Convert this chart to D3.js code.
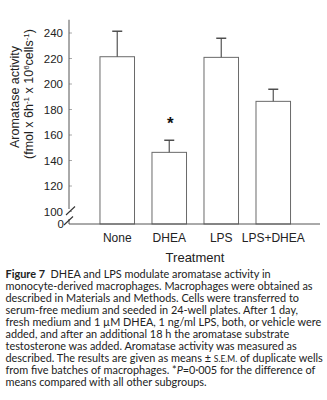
<!DOCTYPE html>
<html>
<head>
<meta charset="utf-8">
<script src="https://cdn.jsdelivr.net/npm/d3@7"></script>
<style>
  html, body { margin: 0; padding: 0; background: #fff; }
  svg { display: block; }
</style>
</head>
<body>
<script>
// Aromatase activity by treatment (mean ± S.E.M.)
const categories = ["None", "DHEA", "LPS", "LPS+DHEA"];
const means = [221, 146, 220.5, 186];
const sems = [20, 9.5, 15, 9.5];
const significant = [false, true, false, false];
const yTicks = [100, 120, 140, 160, 180, 200, 220, 240];

const captionLines = [
  [{t: "Figure 7", b: true}, {t: "  DHEA and LPS modulate aromatase activity in"}],
  [{t: "monocyte-derived macrophages. Macrophages were obtained as"}],
  [{t: "described in Materials and Methods. Cells were transferred to"}],
  [{t: "serum-free medium and seeded in 24-well plates. After 1 day,"}],
  [{t: "fresh medium and 1 \u00B5M DHEA, 1 ng/ml LPS, both, or vehicle were"}],
  [{t: "added, and after an additional 18 h the aromatase substrate"}],
  [{t: "testosterone was added. Aromatase activity was measured as"}],
  [{t: "described. The results are given as means \u00B1 "}, {t: "S.E.M.", sc: true}, {t: " of duplicate wells"}],
  [{t: "from five batches of macrophages. *"}, {t: "P", i: true}, {t: "=0\u00B7005 for the difference of"}],
  [{t: "means compared with all other subgroups."}]
];

const W = 327, H = 400;
const svg = d3.select("body").append("svg").attr("width", W).attr("height", H);

const axisX = 69, baseY = 224, axisRight = 320;
const axisColor = "#555";

// Broken value axis: 100–250 on the linear part, 0 sits on the baseline below the break
const y = d3.scaleLinear().domain([100, 250]).range([211, 19.75]);
const x = d3.scaleBand().domain(categories).range([82.5, 308]).paddingInner(0.336).paddingOuter(0.336);

const g = svg.append("g");

// bars (run down to the baseline through the break)
g.selectAll("rect.bar").data(categories).join("rect")
  .attr("class", "bar")
  .attr("x", d => x(d))
  .attr("y", (d, i) => y(means[i]))
  .attr("width", x.bandwidth())
  .attr("height", (d, i) => baseY - y(means[i]))
  .attr("fill", "#fff")
  .attr("stroke", "#6a6a6a")
  .attr("stroke-width", 1);

// upper error whiskers with caps
const cap = 10;
categories.forEach((c, i) => {
  const cx = x(c) + x.bandwidth() / 2;
  g.append("line").attr("x1", cx).attr("x2", cx)
    .attr("y1", y(means[i])).attr("y2", y(means[i] + sems[i]))
    .attr("stroke", "#555").attr("stroke-width", 1.2);
  g.append("line").attr("x1", cx - cap / 2).attr("x2", cx + cap / 2)
    .attr("y1", y(means[i] + sems[i])).attr("y2", y(means[i] + sems[i]))
    .attr("stroke", "#444").attr("stroke-width", 1.4);
  if (significant[i]) {
    g.append("text").attr("x", cx + 1).attr("y", y(means[i] + sems[i]) - 11)
      .attr("text-anchor", "middle")
      .attr("font-family", "Liberation Sans, Arial, sans-serif")
      .attr("font-size", 17).attr("font-weight", "bold").attr("fill", "#111")
      .text("*");
  }
});

// y axis (upper segment)
const yAxis = d3.axisLeft(y).tickValues(yTicks).tickSize(0).tickPadding(6);
const ya = g.append("g").attr("transform", `translate(${axisX},0)`).call(yAxis);
ya.select(".domain").remove();
ya.selectAll("text").attr("font-family", "Liberation Sans, Arial, sans-serif")
  .attr("font-size", 11.5).attr("fill", "#222").attr("dy", "0.35em");
g.append("line").attr("x1", axisX).attr("x2", axisX).attr("y1", y(250)).attr("y2", 209)
  .attr("stroke", axisColor).attr("stroke-width", 1);
// small inward ticks
ya.selectAll(".tick").append("line").attr("x1", 0).attr("x2", 3)
  .attr("stroke", "#aaa").attr("stroke-width", 1);

// lower segment and the zero label under the break
g.append("line").attr("x1", axisX).attr("x2", axisX).attr("y1", 219).attr("y2", baseY)
  .attr("stroke", axisColor).attr("stroke-width", 1);
g.append("text").attr("x", 64).attr("y", 223.5)
  .attr("text-anchor", "end").attr("dy", "0.35em")
  .attr("font-family", "Liberation Sans, Arial, sans-serif").attr("font-size", 11.5).attr("fill", "#222")
  .text("0");

// break marks
[[66, 215, 75, 206.5], [64, 225, 73, 216.5]].forEach(([x1, y1, x2, y2]) => {
  g.append("line").attr("x1", x1).attr("y1", y1).attr("x2", x2).attr("y2", y2)
    .attr("stroke", "#333").attr("stroke-width", 1.1);
});

// x axis
const xa = g.append("g").attr("transform", `translate(0,${baseY})`)
  .call(d3.axisBottom(x).tickSize(0).tickPadding(9));
xa.select(".domain").remove();
xa.selectAll("text").attr("font-family", "Liberation Sans, Arial, sans-serif")
  .attr("font-size", 12).attr("fill", "#222");
g.append("line").attr("x1", axisX).attr("x2", axisRight).attr("y1", baseY).attr("y2", baseY)
  .attr("stroke", axisColor).attr("stroke-width", 1);

// axis titles
g.append("text").attr("x", 195).attr("y", 262).attr("text-anchor", "middle")
  .attr("font-family", "Liberation Sans, Arial, sans-serif").attr("font-size", 13).attr("fill", "#222")
  .text("Treatment");

const yt = g.append("text").attr("transform", "translate(19,97) rotate(-90)")
  .attr("text-anchor", "middle")
  .attr("font-family", "Liberation Sans, Arial, sans-serif").attr("font-size", 12.5).attr("fill", "#222");
yt.text("Aromatase activity");

const yt2 = g.append("text").attr("transform", "translate(32.5,94) rotate(-90)")
  .attr("text-anchor", "middle")
  .attr("font-family", "Liberation Sans, Arial, sans-serif").attr("font-size", 12.5).attr("fill", "#222");
[["(fmol x 6h", 0], ["-1", 1], [" x 10", 0], ["6", 1], ["cells", 0], ["-1", 1], [")", 0]].forEach(([t, sup]) => {
  yt2.append("tspan").text(t)
    .attr("font-size", sup ? 8 : 12.5)
    .attr("baseline-shift", sup ? "45%" : null);
});

// caption
const cap0 = 277.5, lh = 12;
const ct = svg.append("g").attr("font-family", "Lato, 'Open Sans', sans-serif").attr("font-size", 10.9).attr("fill", "#222");
captionLines.forEach((parts, li) => {
  const t = ct.append("text").attr("x", 5.5).attr("y", cap0 + li * lh).attr("xml:space", "preserve");
  parts.forEach(p => {
    const s = t.append("tspan").text(p.t);
    if (p.b) s.attr("font-weight", "bold");
    if (p.i) s.attr("font-style", "italic");
    if (p.sc) s.attr("font-size", 8.5);
  });
});
</script>
</body>
</html>
